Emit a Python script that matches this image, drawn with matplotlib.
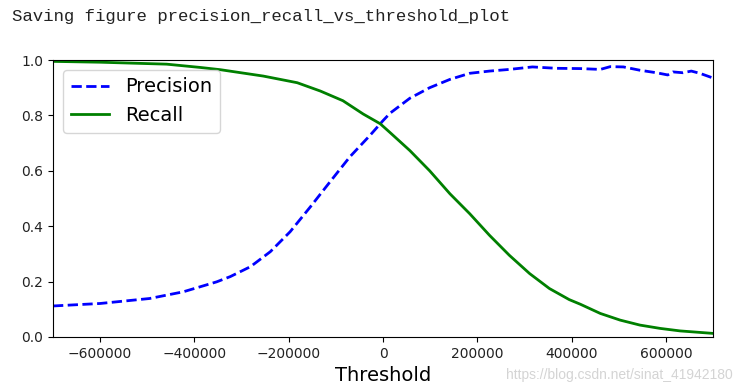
import matplotlib
matplotlib.use('Agg')
import matplotlib.pyplot as plt

# values
thresholds_p = [-700000, -600000, -495000, -424000, -353000, -324000, -281000, -239000,
                -197000, -154000, -112000, -70000, -27000, 0, 15000, 57000, 99000,
                142000, 184000, 226000, 268000, 317000, 368000, 419000, 461000, 482000,
                510000, 545000, 580000, 604000, 615000, 636000, 654000, 672000, 700000]
precisions = [0.112, 0.121, 0.139, 0.163, 0.199, 0.218, 0.254, 0.308, 0.38, 0.47,
              0.561, 0.651, 0.729, 0.781, 0.808, 0.862, 0.90, 0.93, 0.952, 0.96, 0.966,
              0.975, 0.97, 0.969, 0.966, 0.976, 0.975, 0.963, 0.954, 0.946, 0.957,
              0.954, 0.96, 0.952, 0.935]

thresholds_r = [-700000, -600000, -459000, -387000, -345000, -254000, -182000, -133000,
                -85000, -42000, -6000, 15000, 57000, 99000, 142000, 184000, 226000,
                268000, 311000, 353000, 395000, 419000, 461000, 503000, 545000, 588000,
                630000, 700000]
recalls = [0.995, 0.992, 0.985, 0.973, 0.965, 0.942, 0.918, 0.888, 0.853, 0.805, 0.77,
           0.738, 0.673, 0.60, 0.517, 0.445, 0.367, 0.295, 0.229, 0.175, 0.135, 0.118,
           0.085, 0.061, 0.043, 0.031, 0.022, 0.013]

xticks = [-600000, -400000, -200000, 0, 200000, 400000, 600000]
yticks = [0.0, 0.2, 0.4, 0.6, 0.8, 1.0]

fig = plt.figure(figsize=(7.42, 3.90), dpi=100)
fig.text(0.016, 1 - 17 / 390, 'Saving figure precision_recall_vs_threshold_plot',
         family='Liberation Mono', fontsize=12.5, va='center', color='#222222')

ax = fig.add_axes([53 / 742, 53 / 390, 660 / 742, 277 / 390])
ax.plot(thresholds_p, precisions, 'b--', label='Precision', linewidth=2)
ax.plot(thresholds_r, recalls, 'g-', label='Recall', linewidth=2)
ax.set_xlabel('Threshold', fontsize=14)
ax.legend(loc='upper left', fontsize=14)
ax.set_xlim(-700000, 700000)
ax.set_ylim(0, 1)
ax.set_xticks(xticks)
ax.set_yticks(yticks)
ax.tick_params(labelsize=10, labelcolor='#222222')

fig.text(0.988, 15 / 390, 'https://blog.csdn.net/sinat_41942180', ha='right',
         va='center', family='Liberation Sans', fontsize=10, color='#d4d4d4')

fig.savefig('out.png', dpi=100)
